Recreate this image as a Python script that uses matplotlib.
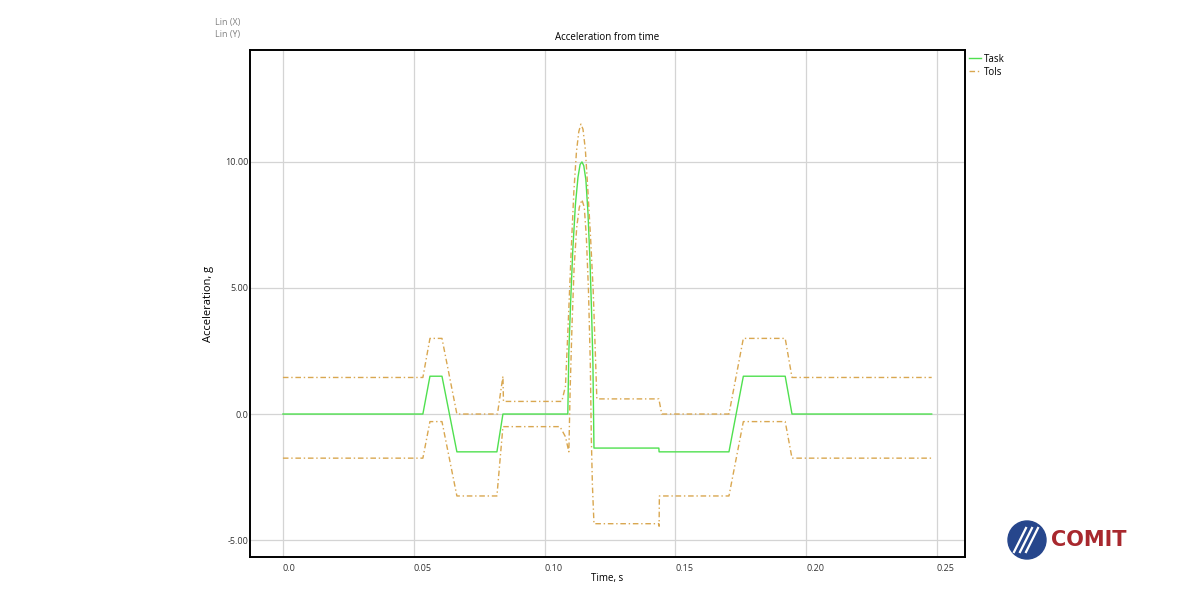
import matplotlib
matplotlib.use('Agg')
import matplotlib.pyplot as plt
from matplotlib.patches import Ellipse

plt.rcParams['font.family'] = ['Open Sans', 'DejaVu Sans']

# Task curve (time s, acceleration g)
task_t = [0.0, 0.0535, 0.0562, 0.0608, 0.0665, 0.0818, 0.0841, 0.1089, 0.1093, 0.1100,
          0.1108, 0.1118, 0.1128, 0.1136, 0.1143, 0.1150, 0.1158, 0.1166, 0.1174, 0.1180,
          0.1185, 0.1189, 0.1437, 0.1438, 0.1705, 0.1760, 0.1920, 0.1946, 0.2480]
task_v = [0.0, 0.0, 1.5, 1.5, -1.5, -1.5, 0.0, 0.0, 2.5, 4.5,
          6.5, 8.3, 9.4, 9.9, 10.0, 9.85, 9.3, 8.0, 6.0, 4.0,
          2.0, -1.35, -1.35, -1.5, -1.5, 1.5, 1.5, 0.0, 0.0]

# upper tolerance
up_t = [0.0, 0.0535, 0.0562, 0.0608, 0.0665, 0.0820, 0.0841, 0.0843, 0.1066, 0.1080,
        0.1086, 0.1093, 0.1102, 0.1112, 0.1122, 0.1131, 0.1139, 0.1147, 0.1156, 0.1165,
        0.1176, 0.1186, 0.1194, 0.1200, 0.1437, 0.1448, 0.1705, 0.1760, 0.1920, 0.1946,
        0.2480]
up_v = [1.45, 1.45, 3.0, 3.0, 0.0, 0.0, 1.5, 0.5, 0.5, 1.1,
        2.5, 4.2, 6.5, 8.8, 10.4, 11.2, 11.5, 11.3, 10.5, 9.0,
        7.0, 4.9, 2.5, 0.6, 0.6, 0.0, 0.0, 3.0, 3.0, 1.45,
        1.45]

# lower tolerance
lo_t = [0.0, 0.0535, 0.0562, 0.0608, 0.0665, 0.0818, 0.0841, 0.1059, 0.1080, 0.1093,
        0.1098, 0.1105, 0.1113, 0.1123, 0.1133, 0.1143, 0.1152, 0.1160, 0.1168, 0.1175,
        0.1179, 0.1183, 0.1189, 0.1437, 0.1438, 0.1439, 0.1705, 0.1760, 0.1920, 0.1946,
        0.2480]
lo_v = [-1.75, -1.75, -0.3, -0.3, -3.25, -3.25, -0.5, -0.5, -0.9, -1.5,
        1.0, 3.5, 5.8, 7.4, 8.2, 8.5, 8.2, 7.0, 4.9, 2.0,
        -1.0, -2.8, -4.35, -4.35, -4.45, -3.25, -3.25, -0.3, -0.3, -1.75,
        -1.75]

x_ticks = [0.0, 0.05, 0.10, 0.15, 0.20, 0.25]
x_labels = ['0.0', '0.05', '0.10', '0.15', '0.20', '0.25']
y_ticks = [-5, 0, 5, 10]
y_labels = ['-5.00', '0.0', '5.00', '10.00']

green = '#4fe04f'
tan = '#d9a750'

fig = plt.figure(figsize=(12, 6), dpi=100)
ax = fig.add_axes([0.2083, 0.0717, 0.5958, 0.845])

ax.plot(task_t, task_v, '-', color=green, lw=1.0, label='Task')
ax.plot(up_t, up_v, color=tan, lw=1.0, ls=(0, (4, 2, 1, 2)), label='Tols')
ax.plot(lo_t, lo_v, color=tan, lw=1.0, ls=(0, (4, 2, 1, 2)))

ax.set_xlim(-0.0126, 0.2607)
ax.set_ylim(-5.67, 14.44)
ax.set_xticks(x_ticks)
ax.set_xticklabels(x_labels, ha='left')
ax.set_yticks(y_ticks)
ax.set_yticklabels(y_labels)
ax.tick_params(length=0, labelsize=6.5, pad=5, labelcolor='#333333')
ax.tick_params(axis='y', pad=1)
ax.grid(True, color='#d4d4d4', lw=0.9)
ax.set_axisbelow(True)
for s in ax.spines.values():
    s.set_linewidth(1.4)

ax.set_xlabel('Time, s', fontsize=7, labelpad=0)
ax.set_ylabel('Acceleration, g', fontsize=8, labelpad=8)
ax.set_title('Acceleration from time', fontsize=7, pad=7)

fig.text(0.179, 0.963, 'Lin (X)', fontsize=6.5, color='#808080', va='center')
fig.text(0.179, 0.943, 'Lin (Y)', fontsize=6.5, color='#808080', va='center')

fig.legend(loc='upper left', bbox_to_anchor=(0.800, 0.925), frameon=False,
           fontsize=7, handlelength=1.3, handletextpad=0.3, labelspacing=0.2)

# logo
logo = Ellipse((1027 / 1200, 60 / 600), 38 / 1200, 38 / 600, transform=fig.transFigure,
               color='#26468c', zorder=5)
fig.add_artist(logo)
for dx in [-6, 0, 6]:
    fig.add_artist(plt.Line2D([(1020 + dx) / 1200, (1032 + dx) / 1200],
                              [48 / 600, 72 / 600], transform=fig.transFigure,
                              color='white', lw=1.6, zorder=6))
fig.text(1051 / 1200, 60 / 600, 'COMIT', fontsize=15, fontweight='bold',
         family='DejaVu Sans', color='#a8282e', va='center', ha='left')

fig.savefig('out.png', dpi=100)
